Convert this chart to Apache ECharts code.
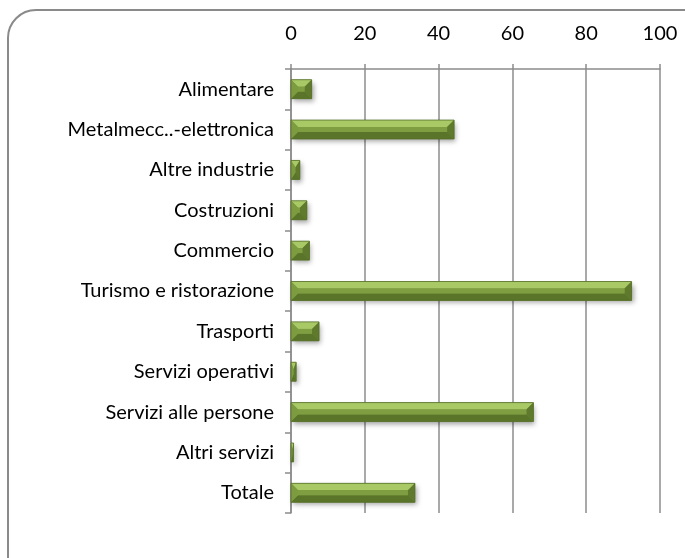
<!DOCTYPE html>
<html>
<head>
<meta charset="utf-8">
<script src="https://cdn.jsdelivr.net/npm/echarts@6/dist/echarts.min.js"></script>
<style>
  html, body { margin: 0; padding: 0; background: #fff; }
  #main { width: 685px; height: 558px; }
</style>
</head>
<body>
<div id="main"></div>
<script>
// categorie (dall'alto in basso)
var categorie = [
  "Alimentare",
  "Metalmecc..-elettronica",
  "Altre industrie",
  "Costruzioni",
  "Commercio",
  "Turismo e ristorazione",
  "Trasporti",
  "Servizi operativi",
  "Servizi alle persone",
  "Altri servizi",
  "Totale"
];
// valori
var valori = [5.6, 44.2, 2.4, 4.3, 5.0, 92.3, 7.6, 1.4, 65.7, 0.7, 33.6];
var tickX = [0, 20, 40, 60, 80, 100];

var chart = echarts.init(document.getElementById("main"));

// barra con effetto "smusso" stile Excel
function renderBar(params, api) {
  var i = api.value(0);
  var v = api.value(1);
  var p0 = api.coord([0, i]);
  var p1 = api.coord([v, i]);
  var band = api.size([0, 1])[1];
  var h = band * 0.47;
  var x0 = p0[0], x1 = p1[0];
  var yt = p0[1] - h / 2, yb = p0[1] + h / 2;
  var w = x1 - x0;
  var dx = Math.min(7, w / 2);
  var dy = Math.min(7, h / 2);
  var A = [x0, yt], B = [x1, yt], C = [x1, yb], D = [x0, yb];
  var a = [x0 + dx, yt + dy], b = [x1 - dx, yt + dy], c = [x1 - dx, yb - dy], d = [x0 + dx, yb - dy];
  function poly(pts, col) {
    return { type: "polygon", shape: { points: pts }, style: { fill: col } };
  }
  return {
    type: "group",
    children: [
      {
        type: "rect",
        shape: { x: x0, y: yt, width: w, height: h },
        style: {
          fill: "#6f8c36",
          shadowBlur: 5,
          shadowOffsetX: 2,
          shadowOffsetY: 3,
          shadowColor: "rgba(0,0,0,0.35)"
        }
      },
      poly([A, B, b, a], "#a9c866"),
      poly([B, C, c, b], "#5f7a2c"),
      poly([C, D, d, c], "#5a7429"),
      poly([D, A, a, d], "#7d9c40"),
      poly([a, b, c, d], "#7f9e42"),
      {
        type: "rect",
        shape: { x: x0, y: yt, width: w, height: h },
        style: { fill: "none", stroke: "#55702a", lineWidth: 0.8 }
      }
    ]
  };
}

var option = {
  animation: false,
  textStyle: { fontFamily: "Lato" },
  graphic: [
    {
      type: "rect",
      shape: { x: 8, y: 10, width: 720, height: 600, r: 28 },
      style: { fill: "none", stroke: "#8a8a8a", lineWidth: 2 },
      z: 0
    }
  ],
  grid: { left: 291, right: 25, top: 69, bottom: 45 },
  xAxis: {
    type: "value",
    position: "top",
    min: tickX[0],
    max: tickX[tickX.length - 1],
    interval: 20,
    axisLine: { show: true, lineStyle: { color: "#8c8c8c", width: 1.5 } },
    axisTick: { show: true, length: 5, lineStyle: { color: "#8c8c8c", width: 1.5 } },
    splitLine: { show: true, lineStyle: { color: "#8c8c8c", width: 1.5 } },
    axisLabel: { color: "#000", fontSize: 20, margin: 25 }
  },
  yAxis: {
    type: "category",
    data: categorie,
    inverse: true,
    axisLine: { show: true, lineStyle: { color: "#8c8c8c", width: 1.5 } },
    axisTick: { show: true, length: 6, lineStyle: { color: "#8c8c8c", width: 1.5 } },
    axisLabel: { color: "#000", fontSize: 20, margin: 17 }
  },
  series: [
    {
      type: "custom",
      renderItem: renderBar,
      encode: { x: 1, y: 0 },
      data: valori.map(function (v, i) { return [i, v]; }),
      z: 3
    }
  ]
};

chart.setOption(option);
</script>
</body>
</html>
